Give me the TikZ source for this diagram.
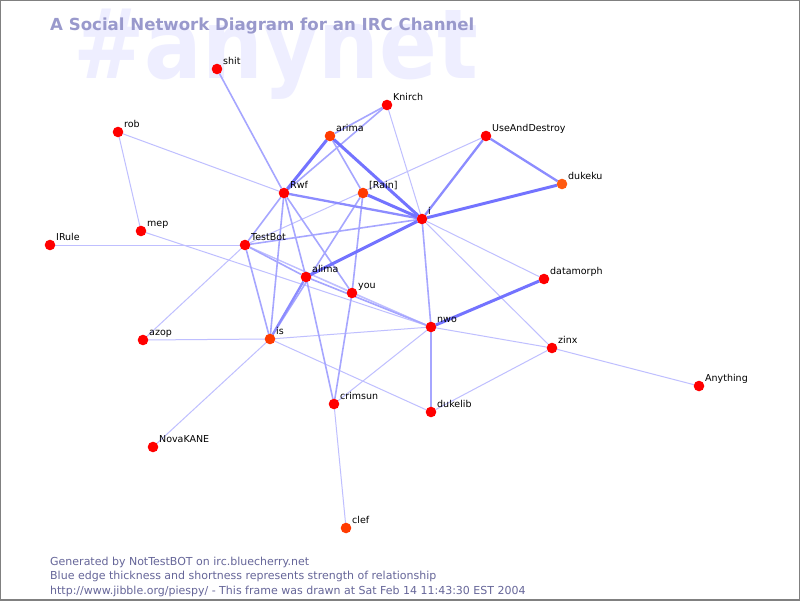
\documentclass[tikz,border=0pt]{standalone}
\usepackage{fontspec}
\setmainfont{DejaVu Sans}
\definecolor{wm}{HTML}{EEEEFF}
\definecolor{ttl}{HTML}{9999CC}
\definecolor{foot}{HTML}{666699}
\definecolor{frame}{HTML}{808080}
\definecolor{nred}{HTML}{FF0000}
\definecolor{norg}{HTML}{FF3A00}
\definecolor{norg2}{HTML}{FF5A10}
\tikzset{
  pt/.style={circle,inner sep=0pt,minimum size=10pt,draw=none},
  lbl/.style={font=\fontsize{9.5}{10}\selectfont,text=black,inner sep=0pt,anchor=base west},
  e1/.style={draw=blue!25,line width=1pt},
  e2/.style={draw=blue!35,line width=1.6pt},
  e3/.style={draw=blue!45,line width=2.3pt},
  e4/.style={draw=blue!55,line width=3pt},
}
\newcommand{\pn}[3]{\node[pt] (#1) at (#2,#3) {};}
\newcommand{\pl}[3]{\fill[#3] (#1) circle (5.3pt);
  \node[lbl] (#1-l) at ([xshift=6pt,yshift=5pt]#1.center) {#2};}
\begin{document}
\begin{tikzpicture}[x=1pt,y=-1pt]
\useasboundingbox (0,0) rectangle (800,600);
\fill[white] (0,0) rectangle (800,600);
% watermark
\begin{scope}
\clip (1,1) rectangle (799,599);
\node[anchor=base west,inner sep=0pt,text=wm] (wmk) at (73,78)
  {\scalebox{0.97}[1.1]{\fontsize{88}{88}\selectfont\bfseries\#anynet}};
\end{scope}
\node[anchor=base west,inner sep=0pt,text=ttl] (title) at (50,30)
  {\fontsize{16.6}{17}\selectfont\bfseries A Social Network Diagram for an IRC Channel};
% node positions
\pn{shit}{217}{69}
\pn{rob}{118}{132}
\pn{Knirch}{387}{105}
\pn{arima}{330}{136}
\pn{UAD}{486}{136}
\pn{dukeku}{562}{184}
\pn{Rwf}{284}{193}
\pn{Rain}{363}{193}
\pn{i}{422}{219}
\pn{mep}{141}{231}
\pn{IRule}{50}{245}
\pn{TestBot}{245}{245}
\pn{alima}{306}{277}
\pn{datamorph}{544}{279}
\pn{you}{352}{293}
\pn{nwo}{431}{327}
\pn{zinx}{552}{348}
\pn{azop}{143}{340}
\pn{is}{270}{339}
\pn{Anything}{699}{386}
\pn{crimsun}{334}{404}
\pn{dukelib}{431}{412}
\pn{NovaKANE}{153}{447}
\pn{clef}{346}{528}
% edges
\foreach \a/\b in {rob/Rwf,rob/mep,IRule/TestBot,mep/nwo,TestBot/azop,azop/is,
  Knirch/i,i/datamorph,i/zinx,TestBot/you,TestBot/nwo,you/nwo,nwo/zinx,nwo/is,
  nwo/crimsun,zinx/dukelib,zinx/Anything,is/dukelib,is/NovaKANE,crimsun/clef,
  UAD/TestBot}
  {\draw[e1] (\a) -- (\b);}
\foreach \a/\b in {shit/Rwf,Rwf/Knirch,Rwf/is,Rwf/alima,Rwf/you,arima/Rain,
  arima/Knirch,Rain/you,Rain/is,i/TestBot,i/nwo,TestBot/is,TestBot/alima,
  alima/crimsun,alima/nwo,you/crimsun,nwo/dukelib,Rwf/TestBot}
  {\draw[e2] (\a) -- (\b);}
\foreach \a/\b in {Rwf/i,i/UAD,UAD/dukeku,alima/is}
  {\draw[e3] (\a) -- (\b);}
\foreach \a/\b in {Rwf/arima,arima/i,Rain/i,i/dukeku,i/alima,nwo/datamorph}
  {\draw[e4] (\a) -- (\b);}
% dots and labels on top
\pl{shit}{shit}{nred}
\pl{rob}{rob}{nred}
\pl{Knirch}{Knirch}{nred}
\pl{arima}{arima}{norg}
\pl{UAD}{UseAndDestroy}{nred}
\pl{dukeku}{dukeku}{norg2}
\pl{Rwf}{Rwf}{nred}
\pl{Rain}{[Rain]}{norg}
\pl{i}{i}{nred}
\pl{mep}{mep}{nred}
\pl{IRule}{IRule}{nred}
\pl{TestBot}{TestBot}{nred}
\pl{alima}{alima}{nred}
\pl{datamorph}{datamorph}{nred}
\pl{you}{you}{nred}
\pl{nwo}{nwo}{nred}
\pl{zinx}{zinx}{nred}
\pl{azop}{azop}{nred}
\pl{is}{is}{norg}
\pl{Anything}{Anything}{nred}
\pl{crimsun}{crimsun}{nred}
\pl{dukelib}{dukelib}{nred}
\pl{NovaKANE}{NovaKANE}{nred}
\pl{clef}{clef}{norg}
% footer
\node[anchor=base west,inner sep=0pt,text=foot,align=left,
  font=\fontsize{11}{14.5}\selectfont] (foot) at (50,594)
  {Generated by NotTestBOT on irc.bluecherry.net\\
   Blue edge thickness and shortness represents strength of relationship\\
   http://www.jibble.org/piespy/ - This frame was drawn at Sat Feb 14 11:43:30 EST 2004};
\draw[frame,line width=2pt] (0,0) rectangle (800,600);
\end{tikzpicture}
\end{document}
